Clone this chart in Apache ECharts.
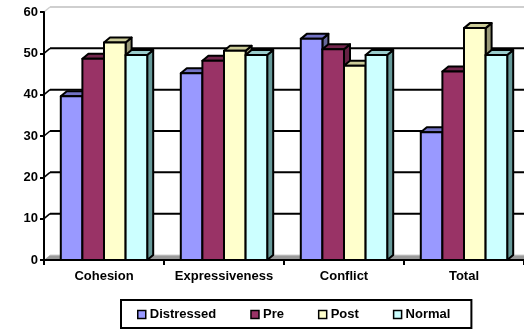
<!DOCTYPE html>
<html><head><meta charset="utf-8">
<script src="https://cdn.jsdelivr.net/npm/echarts@6/dist/echarts.min.js"></script>
<style>html,body{margin:0;padding:0;background:#fff}#c{width:524px;height:331px}</style>
</head><body><div id="c"></div>
<script>
const categories = ['Cohesion', 'Expressiveness', 'Conflict', 'Total'];
const seriesNames = ['Distressed', 'Pre', 'Post', 'Normal'];
const distressed = [39.6, 45.2, 53.5, 30.9];
const pre = [48.7, 48.2, 51.0, 45.6];
const post = [52.6, 50.6, 47.0, 56.1];
const normal = [49.6, 49.6, 49.6, 49.6];
const yTicks = [0, 10, 20, 30, 40, 50, 60];

const frontColors = ['#9999FF', '#993366', '#FFFFCC', '#CCFFFF'];
const topColors = ['#7373C6', '#73264D', '#CCCC99', '#99CCCC'];
const sideColors = ['#666699', '#662244', '#999977', '#669999'];
const DX = 6, DY = 5;
const FONT = 'Liberation Sans, Arial, sans-serif';

function barRender(si) {
  return function (params, api) {
    const cat = api.value(0), v = api.value(1);
    const top = api.coord([cat, v]);
    const base = api.coord([cat, 0]);
    const band = api.size([1, 0])[0];
    const w = band * 0.18;
    const x = top[0] - 2 * w + si * w;
    const yt = top[1], yb = base[1];
    const st = { stroke: '#000', lineWidth: 2, lineJoin: 'round' };
    return {
      type: 'group',
      children: [
        { type: 'polygon', shape: { points: [[x + w, yt], [x + w + DX, yt - DY], [x + w + DX, yb - DY], [x + w, yb]] },
          style: Object.assign({ fill: sideColors[si] }, st) },
        { type: 'polygon', shape: { points: [[x, yt], [x + DX, yt - DY], [x + w + DX, yt - DY], [x + w, yt]] },
          style: Object.assign({ fill: topColors[si] }, st) },
        { type: 'rect', shape: { x: x, y: yt, width: w, height: yb - yt },
          style: Object.assign({ fill: frontColors[si] }, st) }
      ]
    };
  };
}

function wallRender(params, api) {
  const v = api.value(1);
  const cs = params.coordSys;
  const p = api.coord([0, v]);
  const y = p[1];
  const x0 = cs.x, x1 = cs.x + cs.width;
  if (v === 0) {
    return { type: 'group', children: [
      { type: 'polygon', shape: { points: [[x0, y], [x0 + DX, y - DY], [x1 + DX, y - DY], [x1, y]] },
        style: { fill: '#9a9a9a' } },
      { type: 'line', shape: { x1: x0 + DX, y1: y - DY, x2: x1 + DX, y2: y - DY }, style: { stroke: '#d0d0d0', lineWidth: 1 } }
    ]};
  }
  const col = v === 60 ? '#cfcfcf' : '#000';
  return { type: 'group', children: [
    { type: 'line', shape: { x1: x0, y1: y, x2: x0 + DX, y2: y - DY }, style: { stroke: col, lineWidth: 1.5 } },
    { type: 'line', shape: { x1: x0 + DX, y1: y - DY, x2: x1 + DX, y2: y - DY }, style: { stroke: col, lineWidth: 2 } }
  ]};
}

const values = [distressed, pre, post, normal];
const series = [{
  type: 'custom', name: 'wall', z: 1, silent: true,
  renderItem: wallRender,
  data: yTicks.map(t => [0, t])
}];
values.forEach((arr, si) => {
  series.push({
    type: 'custom', name: seriesNames[si], z: 3,
    itemStyle: { color: frontColors[si] },
    renderItem: barRender(si),
    data: arr.map((v, i) => [i, v])
  });
});

const chart = echarts.init(document.getElementById('c'), null, { renderer: 'canvas' });
chart.setOption({
  animation: false,
  backgroundColor: '#fff',
  grid: { left: 44, top: 12, width: 488, height: 248, containLabel: false },
  xAxis: {
    type: 'category', data: categories, z: 5,
    axisLine: { lineStyle: { color: '#000', width: 2 } },
    axisTick: { show: true, length: 5, lineStyle: { color: '#000', width: 2 } },
    axisLabel: { interval: 0, hideOverlap: false, color: '#000', fontWeight: 'bold', fontSize: 13, fontFamily: FONT, margin: 10 },
    splitLine: { show: false }
  },
  yAxis: {
    type: 'value', min: 0, max: 60, interval: 10, z: 5,
    axisLine: { show: true, lineStyle: { color: '#000', width: 2 } },
    axisTick: { show: true, length: 4, lineStyle: { color: '#000', width: 2 } },
    axisLabel: { color: '#000', fontWeight: 'bold', fontSize: 13, fontFamily: FONT, margin: 6 },
    splitLine: { show: false }
  },
  legend: {
    data: seriesNames,
    left: 121, top: 300,
    orient: 'horizontal',
    icon: 'rect', itemWidth: 8, itemHeight: 8, itemGap: 34,
    padding: [8, 21, 7, 16],
    borderColor: '#000', borderWidth: 2,
    itemStyle: { borderColor: '#000', borderWidth: 1.5 },
    textStyle: { color: '#000', fontWeight: 'bold', fontSize: 13, fontFamily: FONT, padding: [0, 0, 0, -1] }
  },
  series: series
});
</script></body></html>
